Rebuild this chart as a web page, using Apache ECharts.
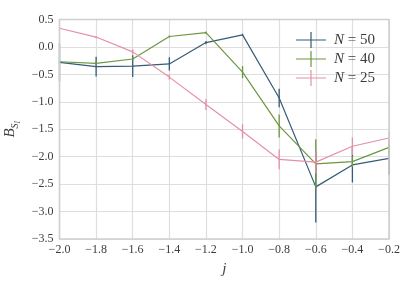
<!DOCTYPE html>
<html>
<head>
<meta charset="utf-8">
<script src="https://cdn.jsdelivr.net/npm/echarts@6/dist/echarts.min.js"></script>
<style>
html,body{margin:0;padding:0;background:#fff;}
#chart{width:415px;height:286px;}
</style>
</head>
<body>
<div id="chart"></div>
<script>
const jValues = [-2.0, -1.8, -1.6, -1.4, -1.2, -1.0, -0.8, -0.6, -0.4, -0.2];
const seriesNames = ['N = 50', 'N = 40', 'N = 25'];
const nLabels = ['50', '40', '25'];
const n50 = [-0.28, -0.36, -0.35, -0.31, 0.08, 0.22, -0.93, -2.55, -2.15, -2.03];
const n50err = [0.35, 0.18, 0.20, 0.12, 0.03, 0.02, 0.17, 0.65, 0.32, 0.30];
const n40 = [-0.27, -0.30, -0.22, 0.19, 0.26, -0.46, -1.44, -2.13, -2.09, -1.83];
const n40err = [0.03, 0.03, 0.03, 0.02, 0.02, 0.11, 0.21, 0.45, 0.10, 0.15];
const n25 = [0.34, 0.18, -0.09, -0.55, -1.05, -1.54, -2.05, -2.10, -1.81, -1.66];
const n25err = [0.02, 0.02, 0.05, 0.05, 0.10, 0.13, 0.18, 0.20, 0.16, 0.12];
const xTicks = [-2.0, -1.8, -1.6, -1.4, -1.2, -1.0, -0.8, -0.6, -0.4, -0.2];
const yTicks = [0.5, 0.0, -0.5, -1.0, -1.5, -2.0, -2.5, -3.0, -3.5];

const colors = ['#355b76', '#6c9641', '#e58fa8'];
const means = [n50, n40, n25];
const errs = [n50err, n40err, n25err];
const FONT = 'Liberation Serif';
const fmt = v => (Math.abs(v) < 1e-9 ? '0.0' : v.toFixed(1).replace('-', '\u2212'));

const chart = echarts.init(document.getElementById('chart'), null, {renderer: 'canvas'});
const series = [];
means.forEach((m, k) => {
  series.push({
    name: seriesNames[k],
    type: 'line',
    data: jValues.map((x, i) => [x, m[i]]),
    showSymbol: false,
    symbol: 'none',
    lineStyle: {color: colors[k], width: 1.2},
    itemStyle: {color: colors[k]},
    z: 2 + k * 2,
    animation: false
  });
  series.push({
    type: 'custom',
    data: jValues.map((x, i) => [x, m[i], errs[k][i]]),
    z: 3 + k * 2,
    animation: false,
    renderItem: (params, api) => {
      const x = api.value(0), y = api.value(1), e = api.value(2);
      const p1 = api.coord([x, y + e]);
      const p2 = api.coord([x, y - e]);
      return {type: 'line', shape: {x1: p1[0], y1: p1[1], x2: p2[0], y2: p2[1]},
        style: {stroke: colors[k], lineWidth: 1.3}};
    }
  });
});

const option = {
  backgroundColor: '#ffffff',
  animation: false,
  grid: {left: 59.5, right: 26, top: 19.5, bottom: 47, show: true, borderColor: '#cfcfcf', borderWidth: 1.6, z: 20,
    containLabel: false, outerBoundsMode: 'none'},
  xAxis: {
    type: 'value', min: -2.0, max: -0.2, interval: 0.2,
    axisLine: {show: false}, axisTick: {show: false},
    splitLine: {show: true, lineStyle: {color: '#dedede', width: 1.2}},
    axisLabel: {formatter: fmt, fontFamily: FONT, fontSize: 12, color: '#3c3c3c', margin: 5,
      showMinLabel: true, showMaxLabel: true},
    name: 'j', nameLocation: 'middle', nameGap: 23, nameMoveOverlap: false,
    nameTextStyle: {fontFamily: FONT, fontStyle: 'italic', fontSize: 15, color: '#3c3c3c'}
  },
  yAxis: {
    type: 'value', min: -3.5, max: 0.5, interval: 0.5,
    axisLine: {show: false}, axisTick: {show: false},
    splitLine: {show: true, lineStyle: {color: '#dedede', width: 1.2}},
    axisLabel: {formatter: fmt, fontFamily: FONT, fontSize: 12, color: '#3c3c3c', margin: 6,
      showMinLabel: true, showMaxLabel: true},
    name: '{b|B}{s|S}{t|I}', nameLocation: 'middle', nameRotate: 90, nameGap: 42, nameMoveOverlap: false,
    nameTextStyle: {
      fontFamily: FONT, fontStyle: 'italic', fontSize: 15, color: '#3c3c3c',
      rich: {
        b: {fontFamily: FONT, fontStyle: 'italic', fontSize: 15, color: '#3c3c3c', verticalAlign: 'bottom'},
        s: {fontFamily: FONT, fontStyle: 'italic', fontSize: 10, color: '#3c3c3c', verticalAlign: 'bottom', padding: [0, 0, -3, 0]},
        t: {fontFamily: FONT, fontStyle: 'italic', fontSize: 7.5, color: '#3c3c3c', verticalAlign: 'bottom', padding: [0, 0, -5, 0]}
      }
    }
  },
  legend: {
    data: seriesNames.map((n, k) => ({
      name: n,
      icon: 'path://M0,9.4h30v1.2h-30z M14.4,2h1.2v16h-1.2z',
      itemStyle: {color: colors[k]}
    })),
    orient: 'vertical', left: 291, top: 27, itemWidth: 30, itemHeight: 18, itemGap: 3,
    selectedMode: false,
    formatter: name => '{i|N} = ' + nLabels[seriesNames.indexOf(name)],
    textStyle: {fontFamily: FONT, fontSize: 15, color: '#3c3c3c', padding: [0, 0, 0, 3],
      rich: {i: {fontFamily: FONT, fontStyle: 'italic', fontSize: 15, color: '#3c3c3c'}}}
  },
  series: series
};
chart.setOption(option);
</script>
</body>
</html>
